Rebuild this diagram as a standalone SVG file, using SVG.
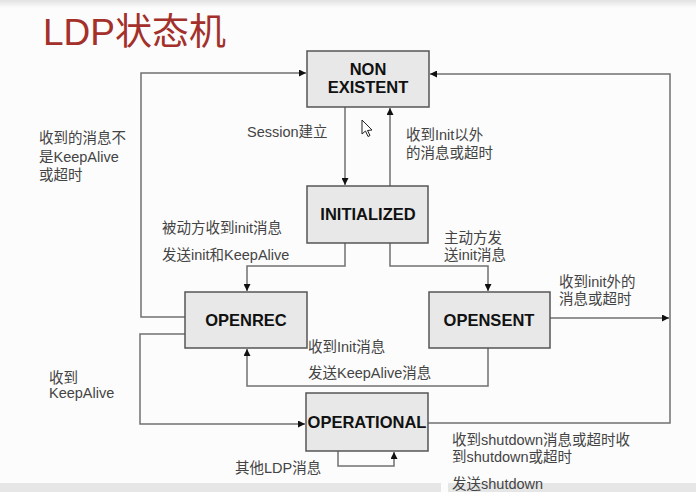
<svg xmlns="http://www.w3.org/2000/svg" width="696" height="492" viewBox="0 0 696 492">
<defs>
<linearGradient id="topband" x1="0" y1="0" x2="0" y2="1">
<stop offset="0" stop-color="#e2e2e2"/>
<stop offset="1" stop-color="#fcfcfc"/>
</linearGradient>
<marker id="arr" viewBox="0 0 8 8" refX="8" refY="4" markerWidth="7" markerHeight="7" markerUnits="userSpaceOnUse" orient="auto">
<path d="M0,0 L8,4 L0,8 Z" fill="#111"/>
</marker>
</defs>
<style>
.node rect{fill:#e8e8e8;stroke:#555;stroke-width:1.5}
.node text{font-family:"Liberation Sans",Arial,sans-serif;font-weight:bold;font-size:16.5px;fill:#111;text-anchor:middle}
.edge{fill:none;stroke:#707070;stroke-width:1.5;marker-end:url(#arr)}
.line{fill:none;stroke:#707070;stroke-width:1.5}
.lbl{font-family:"Liberation Sans","Noto Sans CJK SC",sans-serif;font-size:14.5px;fill:#444}
</style>
<rect x="0" y="0" width="696" height="492" fill="#fcfcfc"/>
<rect x="0" y="0" width="696" height="8" fill="url(#topband)"/>
<rect x="0" y="483" width="441" height="9" fill="#e6e6e6"/>
<rect x="448" y="483" width="248" height="9" fill="#e6e6e6"/>
<text x="43" y="45" font-family="Liberation Sans,'Noto Sans CJK SC',sans-serif" font-size="37" fill="#a3302a">LDP状态机</text>

<g id="connectors">
<path class="edge" d="M185,317 H141 V73 H306"/>
<path class="edge" d="M428,423 H670 V74 H430"/>
<path class="edge" d="M345,107 V185"/>
<path class="edge" d="M390,186 V108"/>
<path class="edge" d="M345,243 V266 H247 V291"/>
<path class="edge" d="M390,243 V266 H488 V291"/>
<path class="edge" d="M550,318 H669"/>
<path class="edge" d="M185,334 H140 V424 H305"/>
<path class="edge" d="M488,348 V386 H247 V349"/>
<path class="edge" d="M338,451 V466 H394 V452"/>
</g>

<g id="non_existent" class="node"><rect x="307" y="51" width="122" height="56"/><text x="368" y="75">NON</text><text x="368" y="93">EXISTENT</text></g>
<g id="initialized" class="node"><rect x="307" y="186" width="121" height="57"/><text x="368" y="220">INITIALIZED</text></g>
<g id="openrec" class="node"><rect x="185" y="292" width="122" height="56"/><text x="246" y="326">OPENREC</text></g>
<g id="opensent" class="node"><rect x="429" y="292" width="121" height="56"/><text x="489" y="326">OPENSENT</text></g>
<g id="operational" class="node"><rect x="306" y="393" width="122" height="58"/><text x="367" y="428">OPERATIONAL</text></g>

<g id="labels" class="lbl">
<text x="247" y="137">Session建立</text>
<text x="406" y="140">收到Init以外</text>
<text x="406" y="158">的消息或超时</text>
<text x="39" y="143">收到的消息不</text>
<text x="39" y="162">是KeepAlive</text>
<text x="39" y="180">或超时</text>
<text x="162" y="233">被动方收到init消息</text>
<text x="162" y="260">发送init和KeepAlive</text>
<text x="444" y="243">主动方发</text>
<text x="444" y="260">送init消息</text>
<text x="559" y="287">收到init外的</text>
<text x="559" y="304">消息或超时</text>
<text x="308" y="352">收到Init消息</text>
<text x="308" y="378">发送KeepAlive消息</text>
<text x="49" y="383">收到</text>
<text x="49" y="398">KeepAlive</text>
<text x="235" y="473">其他LDP消息</text>
<text x="452" y="445">收到shutdown消息或超时收</text>
<text x="452" y="462">到shutdown或超时</text>
<text x="452" y="489">发送shutdown</text>
</g>
<path d="M362,120 L362,134 L365.5,131 L368,136.5 L370,135.5 L367.5,130.5 L372,130 Z" fill="#fff" stroke="#222" stroke-width="1"/>
</svg>
